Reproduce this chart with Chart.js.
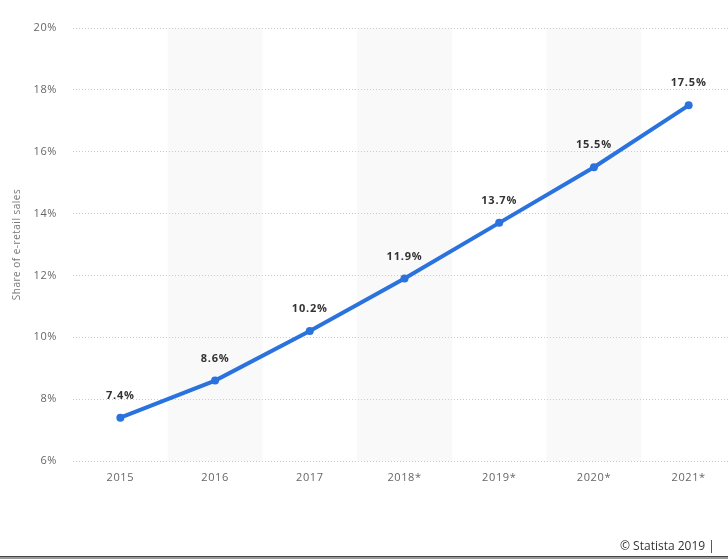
<!DOCTYPE html>
<html>
<head>
<meta charset="utf-8">
<script src="https://cdn.jsdelivr.net/npm/chart.js"></script>
<style>
    html, body { margin: 0; padding: 0; background: #fff; overflow: hidden; }
    #wrap { position: relative; width: 740px; height: 559px; }
    #credit { position: absolute; left: 620px; top: 537px; font: 12px "Open Sans", sans-serif; color: #333; white-space: nowrap; }
    #bottomBar { position: absolute; left: 0; top: 556px; width: 728px; height: 3px; background: #9a9a9a; border-top: 1px solid #444; }
</style>
</head>
<body>
<div id="wrap">
    <canvas id="chart" width="740" height="559"></canvas>
    <div id="credit">© Statista 2019 |</div>
    <div id="bottomBar"></div>
</div>
<script>
// data
const years = ['2015', '2016', '2017', '2018*', '2019*', '2020*', '2021*'];
const shares = [7.4, 8.6, 10.2, 11.9, 13.7, 15.5, 17.5];
const yMin = 6, yMax = 20, yStep = 2;
const shadedYears = ['2016', '2018*', '2020*'];
const yTitle = 'Share of e-retail sales';

const lineColor = '#2a72de';

// light grey band behind every other category, plus a little letter spacing for all text
const bandPlugin = {
    id: 'bands',
    beforeDraw(chart) {
        const ctx = chart.ctx, x = chart.scales.x, area = chart.chartArea;
        const half = (x.getPixelForValue(1) - x.getPixelForValue(0)) / 2;
        ctx.save();
        ctx.fillStyle = '#f9f9f9';
        shadedYears.forEach(y => {
            const c = x.getPixelForValue(years.indexOf(y));
            ctx.fillRect(c - half, area.top, half * 2, area.bottom - area.top);
        });
        ctx.restore();
        if ('letterSpacing' in ctx) ctx.letterSpacing = '0.6px';
    }
};

// rotated axis title and value labels above each point
const labelPlugin = {
    id: 'valueLabels',
    afterDatasetsDraw(chart) {
        const ctx = chart.ctx;
        const area = chart.chartArea;
        const meta = chart.getDatasetMeta(0);
        ctx.save();
        ctx.font = 'bold 11px "Open Sans", sans-serif';
        ctx.fillStyle = '#333';
        ctx.textAlign = 'center';
        ctx.textBaseline = 'middle';
        if ('letterSpacing' in ctx) ctx.letterSpacing = '0.8px';
        meta.data.forEach((pt, i) => {
            ctx.fillText(shares[i].toFixed(1) + '%', pt.x, pt.y - 22);
        });
        ctx.restore();

        ctx.save();
        ctx.font = '10px "Open Sans", sans-serif';
        ctx.fillStyle = '#777';
        ctx.textAlign = 'center';
        ctx.textBaseline = 'middle';
        if ('letterSpacing' in ctx) ctx.letterSpacing = '0.5px';
        ctx.translate(17, (area.top + area.bottom) / 2);
        ctx.rotate(-Math.PI / 2);
        ctx.fillText(yTitle, 0, 0);
        ctx.restore();
    }
};

new Chart(document.getElementById('chart'), {
    type: 'line',
    data: {
        labels: years,
        datasets: [{
            data: shares,
            borderColor: lineColor,
            backgroundColor: lineColor,
            borderWidth: 4,
            pointRadius: 4,
            pointHoverRadius: 4,
            pointBorderWidth: 0,
            tension: 0,
            fill: false
        }]
    },
    options: {
        responsive: false,
        animation: false,
        layout: { padding: { top: 28, left: 0, right: 4, bottom: 0 } },
        plugins: { legend: { display: false }, tooltip: { enabled: false } },
        scales: {
            x: {
                offset: true,
                grid: { display: false, drawTicks: false },
                border: { display: false },
                ticks: { color: '#666', font: { family: 'Open Sans', size: 11 }, padding: 10 },
                afterFit(s) { s.height = 98; }
            },
            y: {
                min: yMin, max: yMax,
                grid: { color: '#cccccc', drawTicks: false },
                border: { display: false, dash: [1, 2] },
                ticks: {
                    stepSize: yStep,
                    color: '#666',
                    font: { family: 'Open Sans', size: 11 },
                    padding: 16,
                    callback: v => v + '%'
                },
                afterFit(s) { s.width = 73; }
            }
        }
    },
    plugins: [bandPlugin, labelPlugin]
});
</script>
</body>
</html>
